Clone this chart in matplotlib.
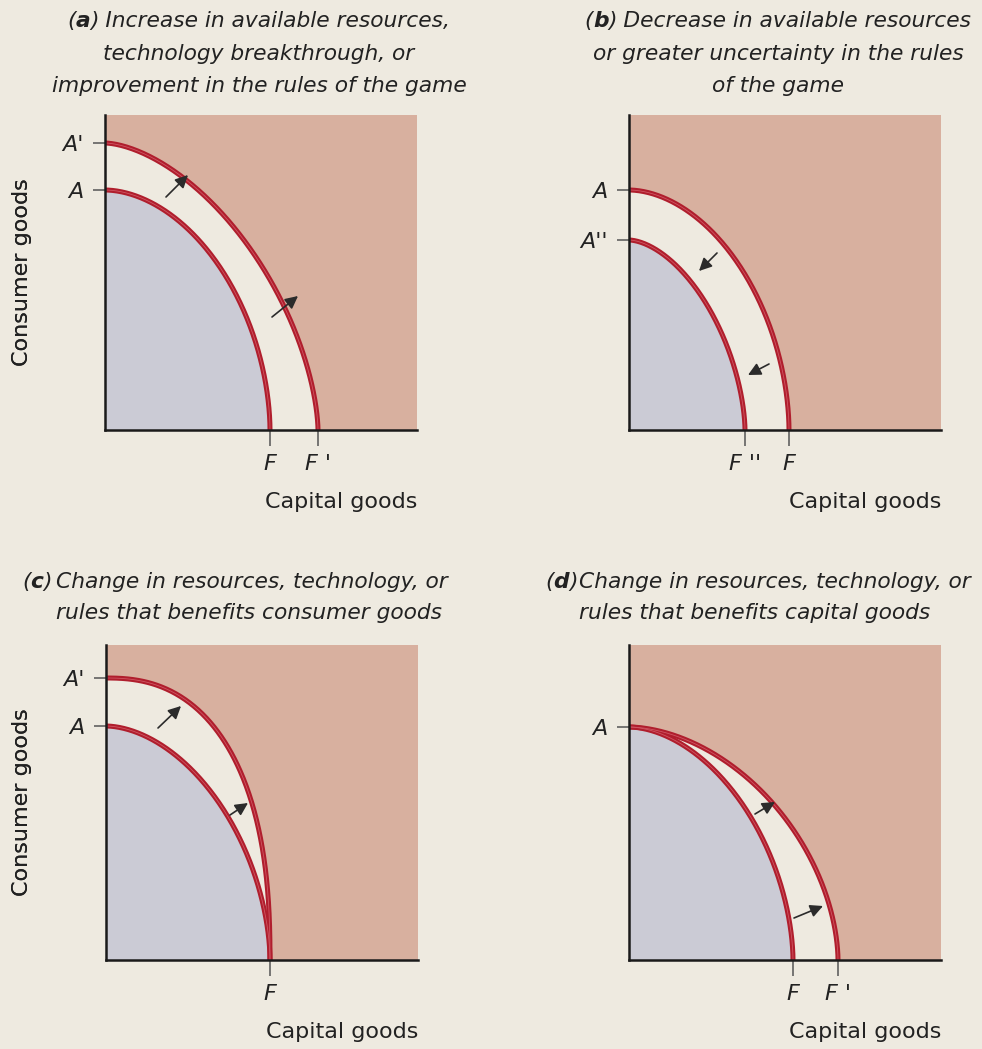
import numpy as np
import matplotlib
matplotlib.use('Agg')
import matplotlib.pyplot as plt

plt.rcParams['font.family'] = ['DejaVu Sans']

W, H = 982, 1049

# ---- data: intercepts of the production possibilities frontiers (arbitrary units)
panels = ['a', 'b', 'c', 'd']
cons_before = [240, 240, 234, 233]     # consumer goods intercept, starting curve
cons_after = [287, 190, 282, 233]      # consumer goods intercept, new curve
cap_before = [165, 160, 164, 164]      # capital goods intercept, starting curve
cap_after = [213, 116, 164, 209]       # capital goods intercept, new curve
bow_before = [1.85, 1.85, 1.8, 1.8]    # curvature of the frontier
bow_after = [1.65, 1.7, 2.4, 1.8]

ytick_vals = [[240, 287], [190, 240], [234, 282], [233]]
ytick_labels = [['A', "A'"], ["A''", 'A'], ['A', "A'"], ['A']]
xtick_vals = [[165, 213], [116, 160], [164], [164, 209]]
xtick_labels = [['F', "F '"], ["F ''", 'F'], ['F'], ['F', "F '"]]

titles = [
    ['Increase in available resources,', 'technology breakthrough, or',
     'improvement in the rules of the game'],
    ['Decrease in available resources', 'or greater uncertainty in the rules',
     'of the game'],
    ['Change in resources, technology, or', 'rules that benefits consumer goods'],
    ['Change in resources, technology, or', 'rules that benefits capital goods'],
]

# arrows (tail, head) in axis units
arrows = [
    [((61, 233), (83, 255)), ((167, 113), (193, 134))],
    [((88, 177), (70, 159)), ((140, 66), (119, 55))],
    [((52, 232), (75, 254)), ((124, 145), (142, 157))],
    [((126, 146), (146, 158)), ((165, 42), (194, 54))],
]

BG = '#eeeae0'
PINK = '#d8b09f'
GREY = '#cbcbd5'
RED = '#b01e2d'
TXT = '#222222'

# left, top (pixels)
boxes = [(105, 115), (629, 115), (106, 645), (629, 645)]
AW, AH = 312, 315


def frontier(a, b, n, num=300):
    t = np.linspace(0, np.pi / 2, num)
    return a * np.cos(t) ** (2 / n), b * np.sin(t) ** (2 / n)


def rich_line(fig, x, y, pieces, ha='center', size=15.7):
    r = fig.canvas.get_renderer()
    texts = []
    for s, w in pieces:
        texts.append(fig.text(0, 0, s, fontsize=size, style='italic', weight=w,
                              color=TXT, va='baseline', ha='left'))
    widths = [t.get_window_extent(r).width for t in texts]
    x0 = x - sum(widths) / 2 if ha == 'center' else x
    for t, w in zip(texts, widths):
        t.set_position((x0 / W, 1 - y / H))
        x0 += w


fig = plt.figure(figsize=(W / 100, H / 100), dpi=100, facecolor=BG)

for i, p in enumerate(panels):
    left, top = boxes[i]
    ax = fig.add_axes([left / W, 1 - (top + AH) / H, AW / W, AH / H])
    ax.set_facecolor(PINK)
    ax.set_xlim(0, AW)
    ax.set_ylim(0, AH)

    xb, yb = frontier(cap_before[i], cons_before[i], bow_before[i])
    xa, ya = frontier(cap_after[i], cons_after[i], bow_after[i])
    curves = [(xb, yb), (xa, ya)]
    # bigger area filled first in cream, smaller in grey
    areas = [cap_before[i] * cons_before[i], cap_after[i] * cons_after[i]]
    order = np.argsort(areas)[::-1]
    for k, col in zip(order, [BG, GREY]):
        cx, cy = curves[k]
        ax.fill(np.r_[0, cx], np.r_[0, cy], color=col, lw=0, zorder=1)
    for cx, cy in curves:
        ax.plot(cx, cy, color=RED, lw=3.6, solid_capstyle='butt', zorder=3)
        ax.plot(cx, cy, color='#cf5663', lw=0.6, zorder=4)

    for (tail, head) in arrows[i]:
        ax.annotate('', xy=head, xytext=tail,
                    arrowprops=dict(arrowstyle='-|>', color='#2b2b2b', lw=1.2,
                                    mutation_scale=19, shrinkA=0, shrinkB=0),
                    zorder=5)

    for s in ['top', 'right']:
        ax.spines[s].set_visible(False)
    for s in ['left', 'bottom']:
        ax.spines[s].set_linewidth(1.8)
        ax.spines[s].set_color('#1a1a1a')
        ax.spines[s].set_zorder(6)

    ax.set_yticks(ytick_vals[i])
    ax.set_yticklabels(ytick_labels[i], fontsize=16, style='italic', color=TXT)
    ax.set_xticks(xtick_vals[i])
    ax.set_xticklabels(xtick_labels[i], fontsize=16, style='italic', color=TXT)
    ax.tick_params(axis='y', direction='out', length=8.6, width=1.1,
                   color='#555555', pad=7)
    ax.tick_params(axis='x', direction='out', length=11.5, width=1.1,
                   color='#555555', pad=6)

    ax.set_ylabel('Consumer goods', fontsize=16, color=TXT, va='center')
    ax.yaxis.set_label_coords((22 - left) / AW, 0.5)
    ax.set_xlabel('Capital goods', fontsize=16, color=TXT, ha='right', va='center')
    ax.xaxis.set_label_coords(1.0, -72 / AH)

# titles
for i, p in enumerate(panels):
    lines = titles[i]
    if i < 2:
        cx = [259, 778][i]
        for j, line in enumerate(lines):
            y = 27 + 32.5 * j
            if j == 0:
                rich_line(fig, cx, y, [('(', 'normal'), (p, 'bold'),
                                       (') ' + line, 'normal')])
            else:
                rich_line(fig, cx, y, [(line, 'normal')])
    else:
        x_lab = [22, 545][i - 2]
        rich_line(fig, x_lab, 588, [('(', 'normal'), (p, 'bold'), (')', 'normal')],
                  ha='left')
        for j, line in enumerate(lines):
            rich_line(fig, x_lab + 34, 588 + 31 * j, [(line, 'normal')], ha='left')

fig.savefig('out.png', dpi=100, facecolor=BG)
